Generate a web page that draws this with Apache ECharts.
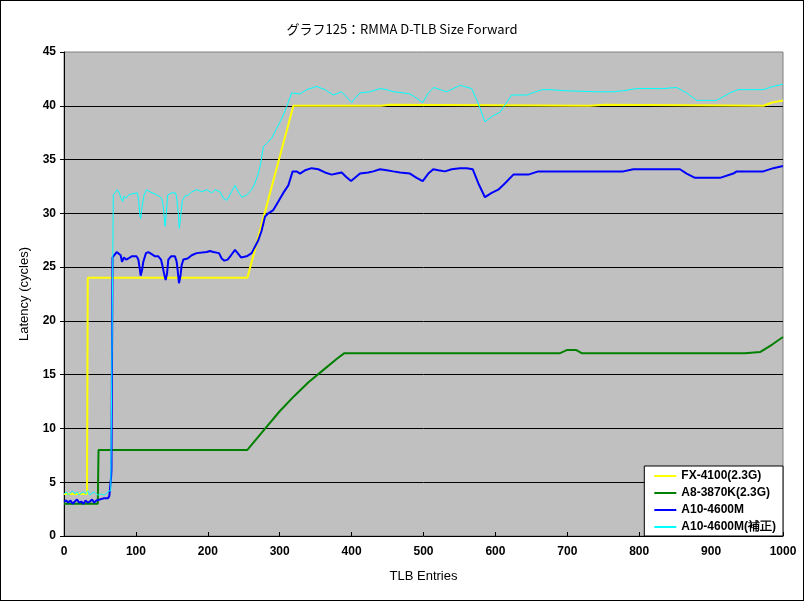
<!DOCTYPE html>
<html>
<head>
<meta charset="utf-8">
<script src="https://cdn.jsdelivr.net/npm/echarts@6/dist/echarts.min.js"></script>
<style>
html,body{margin:0;padding:0;background:#fff;}
#c{width:802px;height:599px;border:1px solid #000;}
</style>
</head>
<body>
<div id="c"></div>
<script>
// ---- data (TLB entries, latency cycles) ----
const seriesNames = ['FX-4100(2.3G)', 'A8-3870K(2.3G)', 'A10-4600M', 'A10-4600M(補正)'];
const xTicks = [0,100,200,300,400,500,600,700,800,900,1000];

const fxX = [0, 32, 33, 255, 319, 441, 442, 453, 454, 731, 732, 752, 753, 973, 985, 1000];
const fxY = [3.9, 3.9, 24.0, 24.0, 40.0, 40.0, 40.1, 40.1, 40.0, 40.0, 40.1, 40.1, 40.0, 40.0, 40.3, 40.5];

const a8X = [0, 47, 48, 255, 280, 300, 320, 340, 360, 380, 390, 690, 700, 712, 720, 947, 968, 985, 1000];
const a8Y = [3.0, 3.0, 8.0, 8.0, 10.0, 11.6, 13.0, 14.3, 15.4, 16.5, 17.0, 17.0, 17.3, 17.3, 17.0, 17.0, 17.1, 17.8, 18.5];

const a10X = [0, 3, 6, 9, 12, 15, 18, 21, 24, 27, 30, 33, 36, 39, 42, 45, 47, 55, 61, 63, 64.5, 65.5, 66, 66.5, 67.5,
  69.5, 73.3, 76, 78.8, 80.7, 83.4, 86.2, 89.5, 94.1, 101, 103.4, 105.7, 106.6, 108.5, 110.3, 114, 117.3, 122, 126.6,
  131.2, 134.9, 136.7, 139.5, 141.4, 143.3, 145.1, 148.8, 154.4, 156.7, 158.1, 159.9, 161.8, 163.7, 166, 172, 177.6,
  184.5, 198.5, 203, 207.7, 215.6, 219.3, 223, 227.6, 232.3, 237.8, 241.6, 246.2, 254, 261, 265.6, 270.2, 274.9,
  279.6, 284.2, 291.1, 298.1, 305, 312, 318, 323.6, 328.2, 335.2, 344.5, 353.7, 363, 372.3, 379.3, 386.2, 392.2,
  399.2, 404.7, 411.7, 423.2, 430.2, 439.5, 448.8, 458, 467.3, 481.2, 490.5, 498.9, 506.7, 513.6, 520.6, 529.9,
  539.2, 550.8, 560.1, 568.4, 576.2, 585.5, 594.8, 604, 613.4, 625, 645.8, 659.7, 685.3, 703.8, 778, 791.8, 840.5,
  856.7, 866, 877.6, 912.4, 930.9, 935.6, 972.6, 986.5, 1000];
const a10Y = [3.2, 3.3, 3.1, 3.3, 3.0, 3.2, 3.4, 3.1, 3.2, 3.0, 3.3, 3.1, 3.2, 3.4, 3.1, 3.3, 3.2, 3.5, 3.5, 3.7, 3.8, 5.5, 6.1, 13.3, 25.9,
  25.9, 26.4, 26.5, 26.1, 25.5, 25.9, 25.7, 25.8, 26.0, 26.0, 25.7, 24.7, 24.2, 24.7, 25.5, 26.3, 26.4, 26.2, 26.0,
  26.0, 25.7, 25.2, 24.3, 23.8, 24.4, 25.7, 26.0, 26.0, 25.5, 24.7, 23.5, 24.1, 25.2, 25.7, 25.8, 26.1,
  26.3, 26.4, 26.5, 26.4, 26.3, 25.8, 25.6, 25.7, 26.1, 26.6, 26.3, 25.9, 26.0, 26.3, 26.9, 27.5, 28.4,
  29.7, 30.0, 30.3, 31.1, 31.9, 32.6, 33.9, 33.9, 33.7, 34.0, 34.2, 34.1, 33.8, 33.6, 33.7, 33.8, 33.4,
  33.0, 33.3, 33.7, 33.8, 33.9, 34.1, 34.0, 33.9, 33.8, 33.7, 33.3, 33.0, 33.7, 34.1, 34.0, 33.9,
  34.1, 34.2, 34.2, 34.1, 32.8, 31.5, 31.9, 32.2, 32.8, 33.6, 33.6, 33.9, 33.9, 33.9, 33.9, 34.1, 34.1,
  34.1, 33.7, 33.3, 33.3, 33.7, 33.9, 33.9, 34.2, 34.4];

const a10cX = [0, 3, 6, 9, 12, 15, 18, 21, 24, 27, 30, 33, 36, 39, 42, 45, 48, 52, 56, 60, 62, 65, 66, 68.6,
  70.9, 74.1, 76.9, 79.3, 81.6, 83.4, 86.2, 89.5, 94.1, 102, 103.9, 105.7, 106.6, 108.5, 111.3, 115, 119.6, 126.6,
  132.1, 135.9, 138.1, 140.5, 142.3, 144.2, 149.8, 155.3, 157.2, 159, 160.4, 162.3, 164.6, 168.3, 172.9, 177.6,
  184.5, 191.5, 198.5, 205.4, 210, 217, 221.6, 226.3, 232.3, 237.8, 242.4, 247.1, 254.1, 261, 265.6, 270.2, 273.5,
  277.2, 281.9, 288.9, 295.8, 302.8, 309.7, 316.7, 319, 328.2, 337.6, 351.5, 363, 374.6, 386.2, 393.2, 400.1, 404.7,
  411.7, 425.6, 439.5, 448.8, 458, 471.9, 481.2, 490.5, 498.9, 506.7, 514.6, 523, 532.3, 550.8, 567, 576.2, 585.5,
  594.8, 606.4, 622.7, 643.5, 664.4, 676, 696.8, 740.9, 764, 778, 796.5, 833.5, 852.1, 866, 880, 907.8, 926.3,
  937.8, 954.1, 972.6, 986.5, 1000];
const a10cY = [3.9, 4.1, 3.8, 4.0, 4.2, 3.9, 4.1, 3.8, 4.0, 4.1, 3.9, 4.2, 3.8, 4.0, 4.1, 3.9, 3.8, 3.9, 3.8, 4.0, 4.2, 4.2, 4.3, 31.7,
  31.9, 32.2, 31.9, 31.4, 31.1, 31.6, 31.4, 31.7, 31.8, 31.9, 31.2, 29.7, 29.5, 30.6, 31.7, 32.2, 32.0, 31.8,
  31.6, 31.4, 30.6, 28.8, 30.0, 31.7, 31.9, 31.9, 31.2, 30.0, 28.6, 29.7, 31.2, 31.6, 31.7, 32.0,
  32.2, 32.0, 32.2, 31.9, 32.2, 32.0, 31.4, 31.2, 31.9, 32.6, 32.0, 31.5, 31.7, 32.2, 32.8, 33.7, 34.6,
  36.2, 36.5, 37.0, 37.9, 38.8, 39.9, 41.2, 41.3, 41.1, 41.5, 41.8, 41.5, 41.0, 41.3, 40.8, 40.3, 40.7,
  41.2, 41.3, 41.6, 41.5, 41.3, 41.2, 41.1, 40.7, 40.3, 41.2, 41.7, 41.5, 41.3, 41.9, 41.6, 40.2, 38.5,
  39.0, 39.4, 41.0, 41.0, 41.5, 41.5, 41.4, 41.3, 41.3, 41.4, 41.6, 41.6, 41.7, 41.2, 40.5, 40.5, 41.2,
  41.5, 41.5, 41.5, 41.8, 42.0];

function pairs(xs, ys) { return xs.map((x, i) => [x, ys[i]]); }

const chart = echarts.init(document.getElementById('c'), null, {renderer: 'canvas'});
const labelFont = {color: '#000', fontFamily: 'Liberation Sans', fontWeight: 'bold', fontSize: 12};
const lineSeries = (name, data, color, width) => ({
  name, type: 'line', data, showSymbol: false, symbol: 'none', smooth: false,
  lineStyle: {color, width}, itemStyle: {color}, animation: false, z: 3
});

chart.setOption({
  animation: false,
  backgroundColor: '#fff',
  title: {
    text: 'グラフ125：RMMA D-TLB Size Forward',
    left: 'center', top: 17,
    textStyle: {fontFamily: 'Noto Sans CJK JP', fontSize: 13, fontWeight: 'normal', color: '#000'}
  },
  grid: {left: 63, top: 51, right: 20, bottom: 64, show: true, backgroundColor: '#C0C0C0', borderColor: '#808080', borderWidth: 1},
  xAxis: {
    type: 'value', min: 0, max: 1000, interval: 100,
    name: 'TLB Entries', nameLocation: 'middle', nameGap: 34,
    nameTextStyle: {fontFamily: 'Liberation Sans', fontSize: 13, color: '#000'},
    axisLine: {show: true, lineStyle: {color: '#000', width: 1}},
    axisTick: {show: true, inside: true, length: 4, lineStyle: {color: '#000'}},
    axisLabel: Object.assign({margin: 10, formatter: v => String(v)}, labelFont),
    splitLine: {show: false}
  },
  yAxis: {
    type: 'value', min: 0, max: 45, interval: 5,
    name: 'Latency (cycles)', nameLocation: 'middle', nameGap: 33, nameRotate: 90, nameMoveOverlap: false,
    nameTextStyle: {fontFamily: 'Liberation Sans', fontSize: 13, color: '#000'},
    axisLine: {show: true, lineStyle: {color: '#000', width: 1}},
    axisTick: {show: true, inside: false, length: 4, lineStyle: {color: '#000'}},
    axisLabel: Object.assign({margin: 8}, labelFont),
    splitLine: {show: true, showMinLine: false, showMaxLine: false, lineStyle: {color: '#000', width: 1}}
  },
  legend: {
    orient: 'vertical', right: 20, bottom: 64,
    data: seriesNames,
    backgroundColor: '#fff', borderColor: '#000', borderWidth: 1,
    padding: [2, 7, 1, 10], itemGap: 1,
    icon: 'rect', itemWidth: 22, itemHeight: 2,
    textStyle: {fontFamily: 'Liberation Sans', fontWeight: 'bold', fontSize: 12, color: '#000', lineHeight: 16},
    selectedMode: false
  },
  series: [
    lineSeries(seriesNames[0], pairs(fxX, fxY), '#FFFF00', 2),
    lineSeries(seriesNames[1], pairs(a8X, a8Y), '#008000', 2),
    lineSeries(seriesNames[2], pairs(a10X, a10Y), '#0000FF', 2),
    lineSeries(seriesNames[3], pairs(a10cX, a10cY), '#00FFFF', 1)
  ]
});
</script>
</body>
</html>
